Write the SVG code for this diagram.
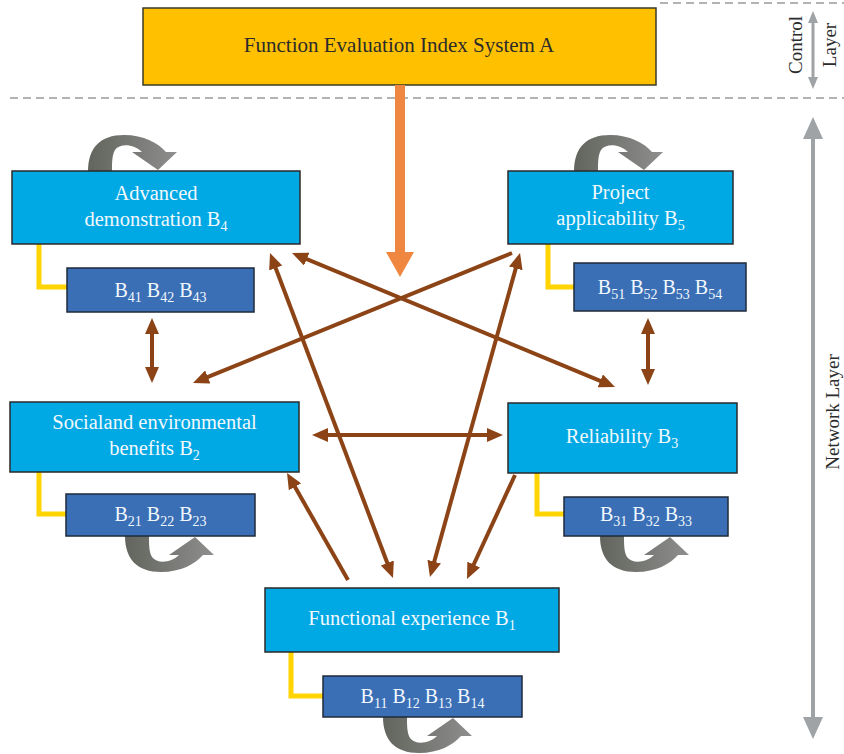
<svg xmlns="http://www.w3.org/2000/svg" width="844" height="754" viewBox="0 0 844 754">
<style>
.node{fill:#00A8E4;stroke:#2a2a2a;stroke-width:1.5}
.sub{fill:#3A6FB6;stroke:#1f2a3a;stroke-width:1.5}
.nt{font-family:"Liberation Serif","Times New Roman",serif;font-size:20.5px;fill:#F2F8FC;text-anchor:middle}
.st{font-family:"Liberation Serif","Times New Roman",serif;font-size:20px;fill:#F2F8FC;text-anchor:middle}
.lab{font-family:"Liberation Serif","Times New Roman",serif;font-size:19px;fill:#2b2b2b;text-anchor:middle;dominant-baseline:central}
.yl{fill:none;stroke:#FFD400;stroke-width:5}
.br{fill:none;stroke:#8C4416;stroke-width:4}
.dash{stroke:#9a9a9a;stroke-width:1.5;stroke-dasharray:8 5;fill:none}
.loop{fill:url(#lg)}
</style>
<defs>
<linearGradient id="lg" x1="0" y1="0" x2="1" y2="0">
<stop offset="0" stop-color="#62655d"/>
<stop offset="1" stop-color="#8e8e8e"/>
</linearGradient>
<marker id="ah" viewBox="0 0 16 14" markerUnits="userSpaceOnUse" markerWidth="16" markerHeight="14" refX="11" refY="7" orient="auto-start-reverse">
<path d="M0,0 L16,7 L0,14 Z" fill="#8C4416"/>
</marker>
<path id="loopShape" d="M0,0 C0,-23 12,-36 36,-36 C56,-36 70,-28 78,-19 L89,-19 L70,-1 L44,-19 L54,-19 C46,-27 32,-28 27,-21 C24,-16 24,-8 24,0 Z"/>
</defs>

<rect width="844" height="754" fill="#ffffff"/>

<g id="layers">
<line class="dash" x1="660" y1="3" x2="844" y2="3"/>
<line class="dash" x1="10" y1="98" x2="844" y2="98"/>
<line x1="813" y1="22" x2="813" y2="78" stroke="#A0A3A6" stroke-width="3"/>
<polygon points="813,11 808,23 818,23" fill="#A0A3A6"/>
<polygon points="813,89 808,77 818,77" fill="#A0A3A6"/>
<text class="lab" transform="translate(795,45) rotate(-90)">Control</text>
<text class="lab" transform="translate(829,45) rotate(-90)">Layer</text>
<line x1="813" y1="136" x2="813" y2="720" stroke="#A0A3A6" stroke-width="4"/>
<polygon points="813,117 803,139 823,139" fill="#A0A3A6"/>
<polygon points="813,739 803,717 823,717" fill="#A0A3A6"/>
<text class="lab" transform="translate(832,412) rotate(-90)">Network Layer</text>
</g>

<g id="nodeA">
<rect x="143" y="8" width="513" height="77" fill="#FFC000" stroke="#3a3a2a" stroke-width="1.5"/>
<text x="399" y="52" font-family="Liberation Serif, Times New Roman, serif" font-size="21" fill="#2b2b2b" text-anchor="middle">Function Evaluation Index System A</text>
</g>

<g id="connectors">
<polygon points="395,85 405,85 405,252 414,252 400,277 386,252 395,252" fill="#EF8740"/>
<line class="br" x1="512" y1="253" x2="197.6" y2="381.1" marker-end="url(#ah)"/>
<line class="br" x1="296.6" y1="254.9" x2="610.4" y2="385.1" marker-start="url(#ah)" marker-end="url(#ah)"/>
<line class="br" x1="271.8" y1="257.7" x2="391.2" y2="573.3" marker-start="url(#ah)" marker-end="url(#ah)"/>
<line class="br" x1="518.7" y1="257.8" x2="431.3" y2="572.2" marker-start="url(#ah)" marker-end="url(#ah)"/>
<line class="br" x1="317" y1="435" x2="498" y2="435" marker-start="url(#ah)" marker-end="url(#ah)"/>
<line class="br" x1="348" y1="580" x2="289.5" y2="477.3" marker-end="url(#ah)"/>
<line class="br" x1="515" y1="475" x2="469.1" y2="574.5" marker-end="url(#ah)"/>
<line class="br" x1="152" y1="323" x2="152" y2="378" marker-start="url(#ah)" marker-end="url(#ah)"/>
<line class="br" x1="648" y1="323" x2="648" y2="380" marker-start="url(#ah)" marker-end="url(#ah)"/>
<polyline class="yl" points="39,244 39,287 67,287"/>
<polyline class="yl" points="548,244 548,287 574,287"/>
<polyline class="yl" points="39,472 39,514 66,514"/>
<polyline class="yl" points="537,473 537,514 564,514"/>
<polyline class="yl" points="291,652 291,696 323,696"/>
<use href="#loopShape" class="loop" transform="translate(88,171)"/>
<use href="#loopShape" class="loop" transform="translate(574,171)"/>
<use href="#loopShape" class="loop" transform="translate(125,536) scale(1,-1)"/>
<use href="#loopShape" class="loop" transform="translate(600,536) scale(1,-1)"/>
<use href="#loopShape" class="loop" transform="translate(383,717) scale(1,-1)"/>
</g>

<g id="nodeB4">
<rect class="node" x="12" y="171" width="288" height="73"/>
<text class="nt" x="156" y="200">Advanced</text>
<text class="nt" x="156" y="226">demonstration B<tspan font-size="14" dy="5">4</tspan></text>
</g>
<g id="nodeB41">
<rect class="sub" x="67" y="268" width="187" height="44"/>
<text class="st" x="160.5" y="297">B<tspan font-size="14" dy="5">41</tspan><tspan dy="-5"> B</tspan><tspan font-size="14" dy="5">42</tspan><tspan dy="-5"> B</tspan><tspan font-size="14" dy="5">43</tspan></text>
</g>

<g id="nodeB5">
<rect class="node" x="508" y="171" width="225" height="73"/>
<text class="nt" x="620.5" y="199">Project</text>
<text class="nt" x="620.5" y="225">applicability B<tspan font-size="14" dy="5">5</tspan></text>
</g>
<g id="nodeB51">
<rect class="sub" x="574" y="263" width="172" height="48"/>
<text class="st" x="660" y="294">B<tspan font-size="14" dy="5">51</tspan><tspan dy="-5"> B</tspan><tspan font-size="14" dy="5">52</tspan><tspan dy="-5"> B</tspan><tspan font-size="14" dy="5">53</tspan><tspan dy="-5"> B</tspan><tspan font-size="14" dy="5">54</tspan></text>
</g>

<g id="nodeB2">
<rect class="node" x="10" y="402" width="289" height="70"/>
<text class="nt" x="154.5" y="429">Socialand environmental</text>
<text class="nt" x="154.5" y="455">benefits B<tspan font-size="14" dy="5">2</tspan></text>
</g>
<g id="nodeB21">
<rect class="sub" x="66" y="494" width="189" height="42"/>
<text class="st" x="160.5" y="521">B<tspan font-size="14" dy="5">21</tspan><tspan dy="-5"> B</tspan><tspan font-size="14" dy="5">22</tspan><tspan dy="-5"> B</tspan><tspan font-size="14" dy="5">23</tspan></text>
</g>

<g id="nodeB3">
<rect class="node" x="508" y="403" width="229" height="70"/>
<text class="nt" x="622" y="443">Reliability B<tspan font-size="14" dy="5">3</tspan></text>
</g>
<g id="nodeB31">
<rect class="sub" x="564" y="497" width="164" height="39"/>
<text class="st" x="646" y="521">B<tspan font-size="14" dy="5">31</tspan><tspan dy="-5"> B</tspan><tspan font-size="14" dy="5">32</tspan><tspan dy="-5"> B</tspan><tspan font-size="14" dy="5">33</tspan></text>
</g>

<g id="nodeB1">
<rect class="node" x="265" y="588" width="294" height="64"/>
<text class="nt" x="412" y="625">Functional experience B<tspan font-size="14" dy="5">1</tspan></text>
</g>
<g id="nodeB11">
<rect class="sub" x="323" y="676" width="199" height="41"/>
<text class="st" x="422.5" y="703">B<tspan font-size="14" dy="5">11</tspan><tspan dy="-5"> B</tspan><tspan font-size="14" dy="5">12</tspan><tspan dy="-5"> B</tspan><tspan font-size="14" dy="5">13</tspan><tspan dy="-5"> B</tspan><tspan font-size="14" dy="5">14</tspan></text>
</g>
</svg>
